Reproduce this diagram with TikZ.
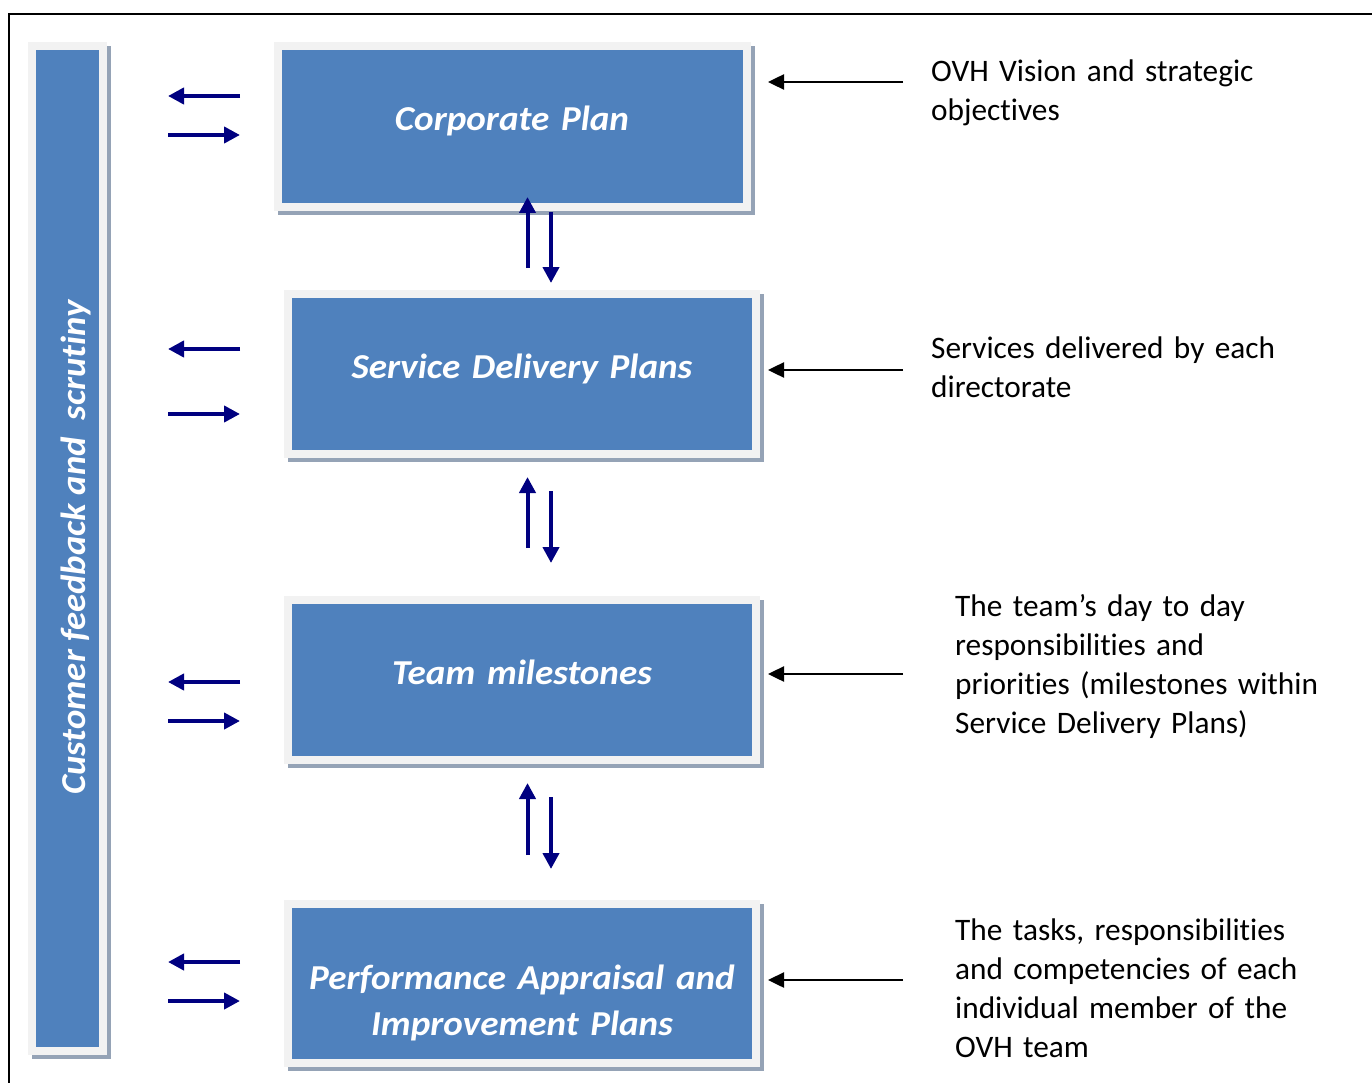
\documentclass[tikz,border=0pt]{standalone}
\usepackage{fontspec}
\setmainfont{Carlito}[Ligatures=NoCommon]
\newfontfamily\panelfont{Carlito}[Ligatures=NoCommon, FakeStretch=1.06, WordSpace=0.8]
\newfontfamily\barfont{Carlito}[Ligatures=NoCommon, FakeStretch=1.05]
\usetikzlibrary{arrows.meta,calc,backgrounds}
\definecolor{boxblue}{HTML}{4F81BD}
\definecolor{rimgray}{HTML}{F2F2F2}
\definecolor{shadegray}{HTML}{95A3B6}
\definecolor{arrownavy}{HTML}{000080}
\tikzset{
  panel/.style={fill=boxblue, draw=rimgray, line width=8pt, inner sep=0pt, outer sep=0pt},
  paneltext/.style={text=white, font=\panelfont\fontsize{35}{46}\selectfont\bfseries\itshape,
    text width=460pt, align=center, inner sep=0pt, anchor=base},
  note/.style={font=\fontsize{31.3}{39}\selectfont, text width=420pt, align=left,
    inner sep=0pt, anchor=base west},
  navyarrow/.style={draw=arrownavy, line width=4pt, -{Triangle[length=16pt,width=16pt]}},
  blackarrow/.style={draw=black, line width=2.5pt, -{Triangle[length=16pt,width=15pt]}},
  shade/.style={fill=shadegray},
}
\begin{document}
\begin{tikzpicture}[x=1pt,y=-1pt]
\useasboundingbox (0,0) rectangle (1372,1083);

% outer frame (only its top and left edges fall inside the page)
\draw[line width=2.5pt] (1372,14) -- (9,14) -- (9,1083);

% side bar
\node[panel, minimum width=71pt, minimum height=1005pt] (bar) at (67.5,548.5) {};
\node[text=white, font=\barfont\fontsize{35}{46}\selectfont\bfseries\itshape, rotate=90,
      anchor=base, inner sep=0pt] (bartext) at (85,547.5) {Customer feedback and\hspace{17pt}scrutiny};

% plan boxes
\node[panel, minimum width=469pt, minimum height=161pt] (corp) at (512.5,126.5) {};
\node[panel, minimum width=468pt, minimum height=160pt] (sdp)  at (522,374) {};
\node[panel, minimum width=468pt, minimum height=160pt] (team) at (522,680) {};
\node[panel, minimum width=468pt, minimum height=159pt] (pai)  at (522,983.5) {};

% page background and drop shadows behind the panels
\begin{scope}[on background layer]
  \fill[white] (0,0) rectangle (1372,1083);
  \foreach \b in {bar,corp,sdp,team,pai}
    \fill[shade] (\b.north west) rectangle ($(\b.south east)+(8,8)$);
\end{scope}

\node[paneltext] (corpt) at (512,131) {Corporate Plan};
\node[paneltext] (sdpt)  at (522,378) {Service Delivery Plans};
\node[paneltext] (teamt) at (522,684) {Team milestones};
\node[paneltext] (pait)  at (522,989.5) {Performance Appraisal and\\Improvement Plans};

% notes on the right
\node[note] (n1) at (931,82)  {OVH Vision and strategic\\objectives};
\node[note] (n2) at (931,358) {Services delivered by each\\directorate};
\node[note] (n3) at (955,616) {The team’s day to day\\responsibilities and\\priorities (milestones within\\Service Delivery Plans)};
\node[note] (n4) at (955,940) {The tasks, responsibilities\\and competencies of each\\individual member of the\\OVH team};

% arrows between the side bar and each box
\foreach \i/\ya/\yb in {1/96/135, 2/349/414, 3/682/721, 4/962/1001} {
  \coordinate (fbIn\i)  at (240,\ya);
  \coordinate (fbOut\i) at (168,\ya);
  \coordinate (fbFrom\i) at (168,\yb);
  \coordinate (fbTo\i)   at (240,\yb);
  \draw[navyarrow] (fbIn\i) -- (fbOut\i);
  \draw[navyarrow] (fbFrom\i) -- (fbTo\i);
}

% arrows between consecutive boxes
\foreach \i/\ua/\ub/\da/\db in {1/268/197/212/283, 2/548/477/491/563, 3/855/783/797/869} {
  \coordinate (upA\i) at (527.5,\ua);
  \coordinate (upB\i) at (527.5,\ub);
  \coordinate (dnA\i) at (551,\da);
  \coordinate (dnB\i) at (551,\db);
  \draw[navyarrow] (upA\i) -- (upB\i);
  \draw[navyarrow] (dnA\i) -- (dnB\i);
}

% arrows from the notes into the boxes
\foreach \i/\y in {1/82, 2/370, 3/674, 4/980} {
  \coordinate (srcN\i) at (903,\y);
  \coordinate (dstN\i) at (768,\y);
  \draw[blackarrow] (srcN\i) -- (dstN\i);
}
\end{tikzpicture}
\end{document}
